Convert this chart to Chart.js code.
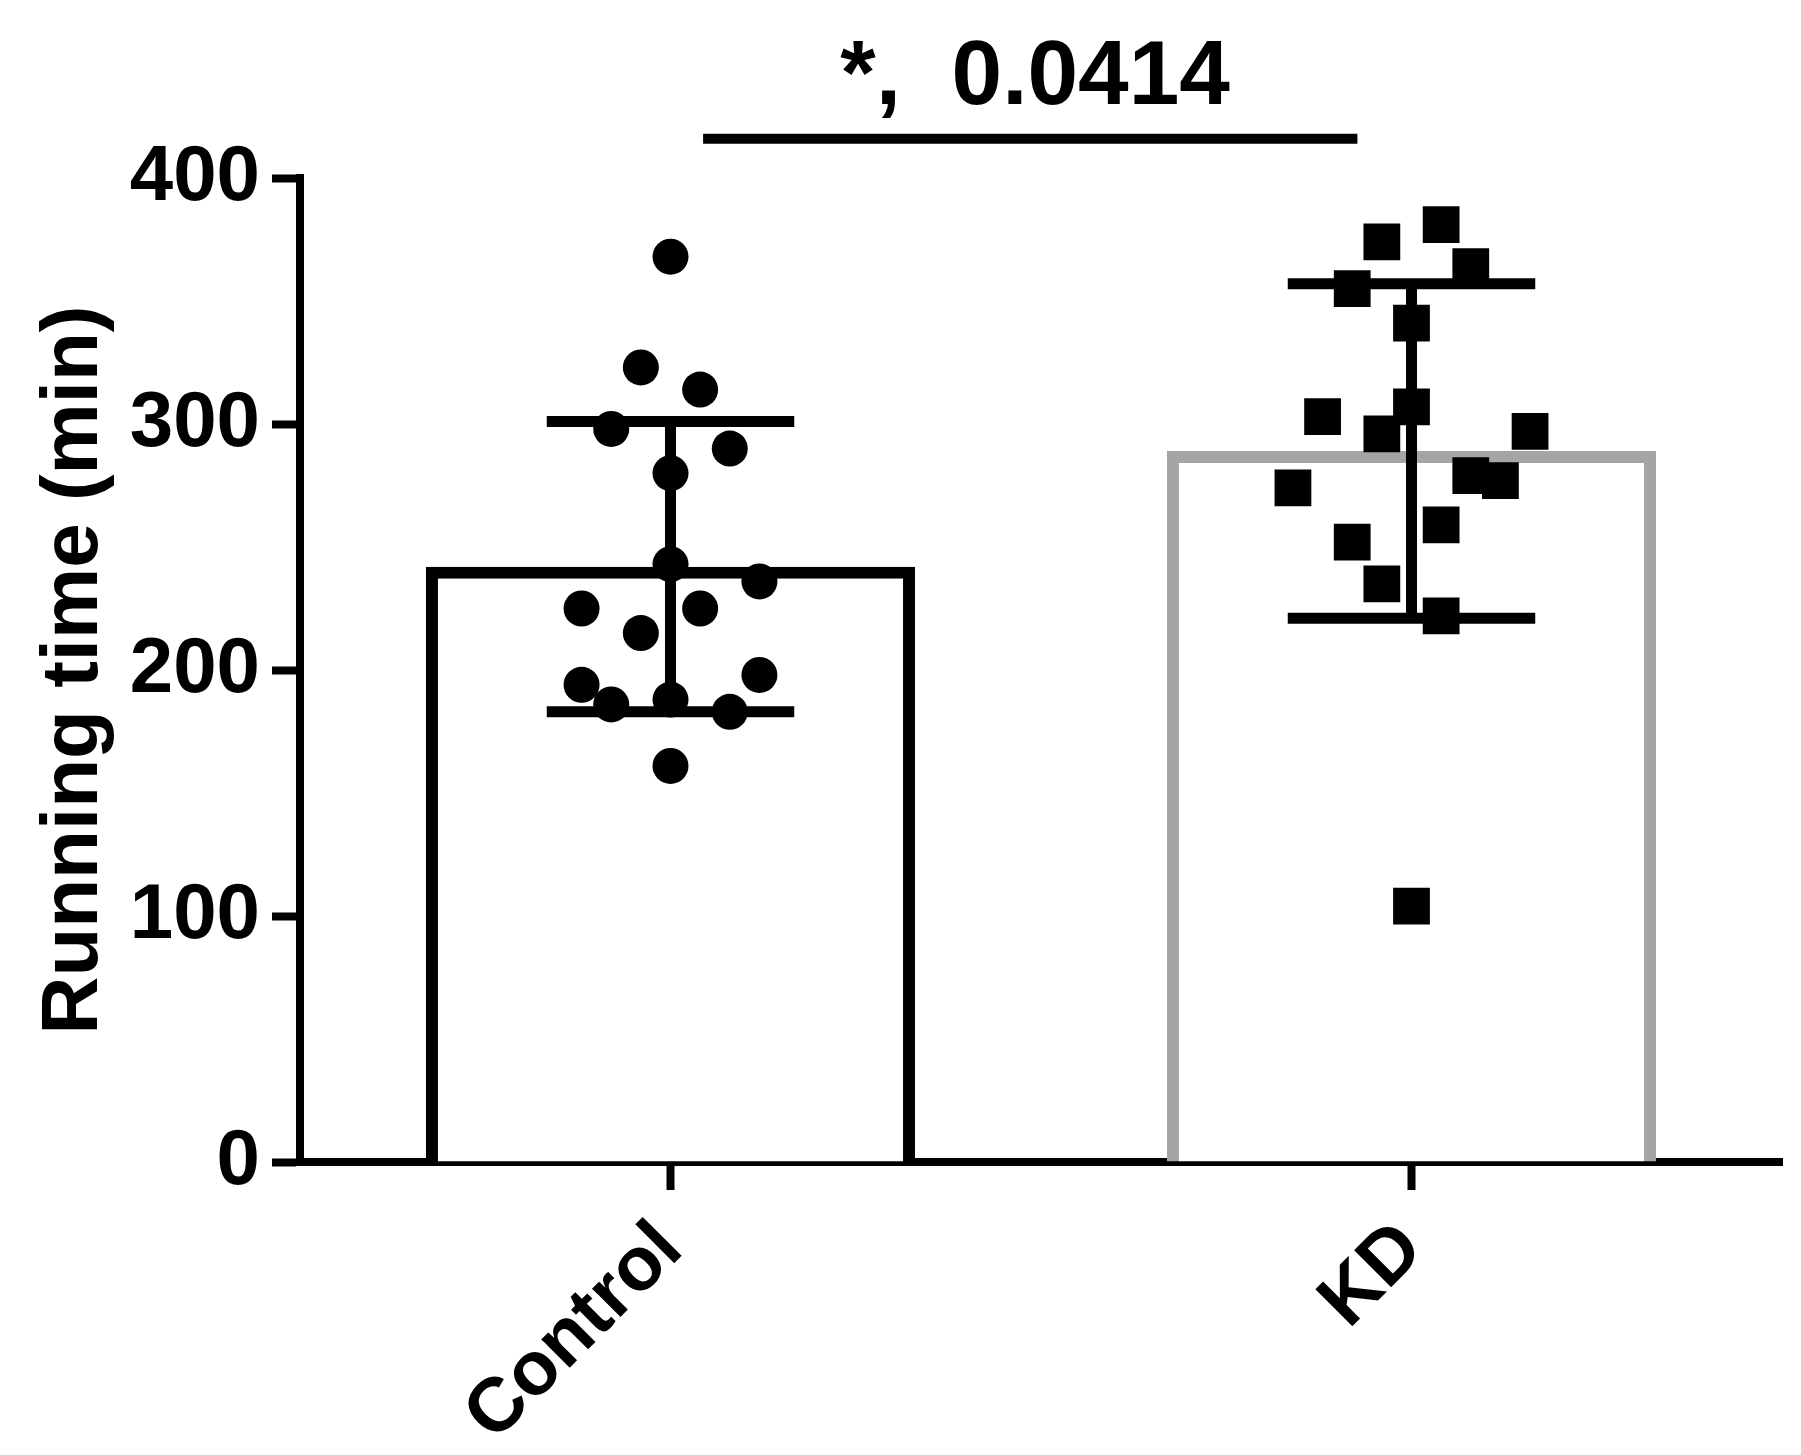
<!DOCTYPE html>
<html>
<head>
<meta charset="utf-8">
<script src="https://cdn.jsdelivr.net/npm/chart.js@4.4.1/dist/chart.umd.min.js"></script>
<style>
  html, body { margin: 0; padding: 0; background: #fff; }
</style>
</head>
<body>
<canvas id="chart" width="1801" height="1455"></canvas>
<script>
const groups = ['Control', 'KD'];
const controlValues = [368, 323, 314, 298, 290, 280, 243, 236, 225, 225, 215, 198, 194, 186, 188, 183, 161];
const controlSlots  = [0, -1, 1, -2, 2, 0, 0, 3, -3, 1, -1, 3, -3, -2, 0, 2, 0];
const kdValues = [381, 374, 364, 355, 341, 307, 303, 296, 297, 274, 279, 277, 259, 252, 235, 222, 104];
const kdSlots  = [1, -1, 2, -2, 0, 0, -3, -1, 4, -4, 2, 3, 1, -2, -1, 1, 0];
const means = [242, 289];
const sds = [59, 68];
const yTicks = [0, 100, 200, 300, 400];
const pLabel = '*,  0.0414';

const FONT = "'Liberation Sans', Arial, sans-serif";
const SLOT = 0.04; // horizontal spread of the dots, in category units

function toPoints(values, slots, g) {
    return values.map((v, i) => ({ x: g + slots[i] * SLOT, y: v }));
}

// mean +/- SD whiskers, drawn right after the bars
const errorBars = {
    id: 'errorBars',
    afterDatasetDraw(chart, args) {
        if (args.meta.type !== 'bar') return;
        const ctx = chart.ctx;
        const xs = chart.scales.xs;
        const y = chart.scales.y;
        ctx.save();
        ctx.strokeStyle = '#000';
        ctx.lineWidth = 11;
        means.forEach((m, i) => {
            const cx = xs.getPixelForValue(i);
            const half = xs.getPixelForValue(i + 0.167) - cx;
            const top = y.getPixelForValue(m + sds[i]);
            const bot = y.getPixelForValue(m - sds[i]);
            ctx.beginPath();
            ctx.moveTo(cx, top);
            ctx.lineTo(cx, bot);
            ctx.moveTo(cx - half, top);
            ctx.lineTo(cx + half, top);
            ctx.moveTo(cx - half, bot);
            ctx.lineTo(cx + half, bot);
            ctx.stroke();
        });
        ctx.restore();
    }
};

// significance line and p value above the bars
const significance = {
    id: 'significance',
    afterDraw(chart) {
        const ctx = chart.ctx;
        const xs = chart.scales.xs;
        const y = chart.scales.y;
        ctx.save();
        ctx.strokeStyle = '#000';
        ctx.lineWidth = 10;
        ctx.beginPath();
        ctx.moveTo(xs.getPixelForValue(0.044), y.getPixelForValue(416));
        ctx.lineTo(xs.getPixelForValue(0.927), y.getPixelForValue(416));
        ctx.stroke();
        ctx.fillStyle = '#000';
        ctx.font = 'bold 91px ' + FONT;
        ctx.textAlign = 'center';
        ctx.textBaseline = 'alphabetic';
        ctx.fillText(pLabel, xs.getPixelForValue(0.492), y.getPixelForValue(430));
        ctx.restore();
    }
};

window.onload = function () {
    const ctx = document.getElementById('chart').getContext('2d');
    new Chart(ctx, {
        type: 'bar',
        data: {
            labels: groups,
            datasets: [
                {
                    type: 'scatter',
                    xAxisID: 'xs',
                    data: toPoints(controlValues, controlSlots, 0),
                    pointStyle: 'circle',
                    pointRadius: 18,
                    backgroundColor: '#000',
                    borderWidth: 0,
                    order: 1,
                    clip: false
                },
                {
                    type: 'scatter',
                    xAxisID: 'xs',
                    data: toPoints(kdValues, kdSlots, 1),
                    pointStyle: 'rect',
                    pointRadius: 26,
                    backgroundColor: '#000',
                    borderWidth: 0,
                    order: 1,
                    clip: false
                },
                {
                    type: 'bar',
                    xAxisID: 'x',
                    data: means,
                    backgroundColor: '#fff',
                    borderColor: ['#000', '#a5a5a5'],
                    borderWidth: 12,
                    grouped: false,
                    barPercentage: 0.66,
                    categoryPercentage: 1,
                    order: 3
                }
            ]
        },
        options: {
            responsive: false,
            animation: false,
            devicePixelRatio: 1,
            layout: { autoPadding: false, padding: { top: 178, right: 19, left: 0, bottom: 0 } },
            plugins: { legend: { display: false }, tooltip: { enabled: false } },
            scales: {
                x: {
                    afterFit: (s) => { s.height = 293; },
                    grid: { drawOnChartArea: false, offset: false, tickLength: 28, tickWidth: 8, tickColor: '#000' },
                    border: { color: '#000', width: 8 },
                    ticks: {
                        color: '#000',
                        font: { family: FONT, size: 76, weight: 'bold' },
                        minRotation: 45,
                        maxRotation: 45,
                        autoSkip: false,
                        padding: 15
                    }
                },
                xs: {
                    type: 'linear',
                    axis: 'x',
                    position: 'bottom',
                    min: -0.5,
                    max: 1.5,
                    offset: false,
                    grid: { offset: false },
                    display: false
                },
                y: {
                    min: 0,
                    max: 400,
                    afterFit: (s) => { s.width = 300; },
                    afterBuildTicks: (s) => { s.ticks = yTicks.map(v => ({ value: v })); },
                    grid: { drawOnChartArea: false, tickLength: 28, tickWidth: 8, tickColor: '#000' },
                    border: { color: '#000', width: 8 },
                    ticks: {
                        color: '#000',
                        font: { family: FONT, size: 78, weight: 'bold' },
                        padding: 12
                    },
                    title: {
                        display: true,
                        text: 'Running time (min)',
                        color: '#000',
                        font: { family: FONT, size: 80, weight: 'bold' },
                        padding: { top: 27, bottom: 0 }
                    }
                }
            }
        },
        plugins: [errorBars, significance]
    });
};
</script>
</body>
</html>
